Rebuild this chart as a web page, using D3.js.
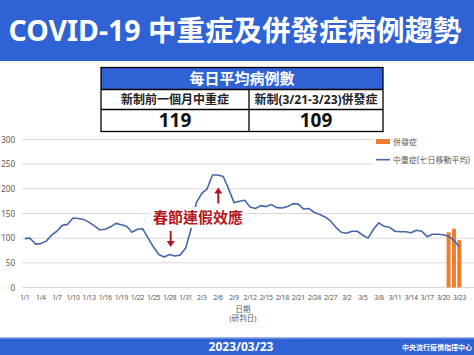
<!doctype html>
<html>
<head>
<meta charset="utf-8">
<script src="https://cdnjs.cloudflare.com/ajax/libs/d3/7.8.5/d3.min.js"></script>
<style>
  body{margin:0;background:#fff;}
  svg{display:block;font-family:"Noto Sans","Noto Sans CJK TC",sans-serif;}
</style>
</head>
<body>
<svg id="chart" width="474" height="355"></svg>
<script>
// daily values, 1/1 .. 3/23
var severe = [99,100,88,89,94,106,114,126,128,141,140,138,132,125,117,118,123,130,127,124,
  112,118,119,100,82,67,62,67,64,66,80,118,172,191,200,228,228,225,200,172,
  175,177,163,160,166,164,168,162,161,164,170,169,159,160,152,148,143,135,122,112,
  110,114,114,106,100,118,131,124,122,114,113,113,111,116,114,103,108,108,107,104,
  95,83];
var compDates = ["3/21","3/22","3/23"];
var complication = [112,119,96];
var yTicks = [0,50,100,150,200,250,300];
var tickLabels = ["1/1","1/4","1/7","1/10","1/13","1/16","1/19","1/22","1/25","1/28","1/31",
  "2/3","2/6","2/9","2/12","2/15","2/18","2/21","2/24","2/27","3/2","3/5","3/8","3/11",
  "3/14","3/17","3/20","3/23"];
var tableHead = "每日平均病例數";
var tableCols = ["新制前一個月中重症","新制(3/21-3/23)併發症"];
var tableVals = ["119","109"];

var dates = d3.timeDay.range(new Date(2023,0,1), new Date(2023,2,24))
  .map(function(d){ return (d.getMonth()+1) + "/" + d.getDate(); });

var blue = "#2f62d4", red = "#b0171f", lineBlue = "#4566ad";
var svg = d3.select("#chart");

// header band
svg.append("rect").attr("x",0).attr("y",0).attr("width",474).attr("height",61).attr("fill",blue);
svg.append("text").attr("x",235).attr("y",41).attr("text-anchor","middle")
  .attr("fill","#fff").attr("font-size",28.5).attr("font-weight","bold")
  .text("COVID-19 中重症及併發症病例趨勢");

// scales
var x = d3.scalePoint().domain(dates).range([24.7,459.3]);
var y = d3.scaleLinear().domain([0,300]).range([287.5,139.5]);

// grid
svg.append("g").selectAll("line").data(yTicks).enter().append("line")
  .attr("x1",22).attr("x2",474).attr("y1",d=>y(d)).attr("y2",d=>y(d))
  .attr("stroke","#d9d9d9").attr("stroke-width",1);
svg.append("g").selectAll("text").data(yTicks).enter().append("text")
  .attr("x",15).attr("y",d=>y(d)+3).attr("text-anchor","end")
  .attr("font-size",8).attr("fill","#595959").text(d=>d);

// x labels
svg.append("g").selectAll("text").data(tickLabels).enter().append("text")
  .attr("x",d=>x(d)).attr("y",300).attr("text-anchor","middle")
  .attr("font-size",7).attr("letter-spacing",-0.4).attr("fill","#595959").text(d=>d);
svg.append("text").attr("x",243).attr("y",311.5).attr("text-anchor","middle")
  .attr("font-size",7.5).attr("fill","#595959").text("日期");
svg.append("text").attr("x",243).attr("y",321).attr("text-anchor","middle")
  .attr("font-size",7.5).attr("fill","#595959").text("(研判日)");

// bars
svg.append("g").selectAll("rect").data(complication).enter().append("rect")
  .attr("x",(d,i)=>x(compDates[i])-2).attr("width",4)
  .attr("y",d=>y(d)).attr("height",d=>y(0)-y(d)).attr("fill","#ed7d31");

// line
var line = d3.line().x((d,i)=>x(dates[i])).y(d=>y(d));
svg.append("path").datum(severe).attr("d",line).attr("fill","none")
  .attr("stroke",lineBlue).attr("stroke-width",1.6).attr("stroke-linejoin","round");

// annotation
svg.append("rect").attr("x",150).attr("y",207).attr("width",96).attr("height",21).attr("fill","#fff");
svg.append("text").attr("x",198).attr("y",223).attr("text-anchor","middle")
  .attr("font-size",15).attr("font-weight","bold").attr("fill",red).text("春節連假效應");
function arrow(cx, y1, y2){
  var dir = y2 > y1 ? 1 : -1;
  svg.append("line").attr("x1",cx).attr("x2",cx).attr("y1",y1).attr("y2",y2-dir*5)
    .attr("stroke",red).attr("stroke-width",2);
  svg.append("path").attr("fill",red)
    .attr("d","M"+(cx-4)+","+(y2-dir*6)+"L"+(cx+4)+","+(y2-dir*6)+"L"+cx+","+y2+"Z");
}
arrow(170.7,231,247);
arrow(218.3,203.5,187.5);

// legend
svg.append("rect").attr("x",373).attr("y",131).attr("width",101).attr("height",38).attr("fill","#fff");
svg.append("rect").attr("x",376).attr("y",139).attr("width",14).attr("height",5).attr("fill","#ed7d31");
svg.append("text").attr("x",393).attr("y",144.5).attr("font-size",8).attr("fill","#595959").text("併發症");
svg.append("line").attr("x1",376).attr("x2",390).attr("y1",159.7).attr("y2",159.7)
  .attr("stroke",lineBlue).attr("stroke-width",1.6);
svg.append("text").attr("x",393).attr("y",162.5).attr("font-size",8).attr("fill","#595959").text("中重症(七日移動平均)");

// table
var tx0 = 101, tx1 = 383, tmid = 249;
svg.append("rect").attr("x",tx0).attr("y",67.5).attr("width",tx1-tx0).attr("height",22).attr("fill",blue);
svg.append("rect").attr("x",tx0).attr("y",67.5).attr("width",tx1-tx0).attr("height",64)
  .attr("fill","none").attr("stroke","#000").attr("stroke-width",1.3);
svg.append("line").attr("x1",tx0).attr("x2",tx1).attr("y1",89.5).attr("y2",89.5).attr("stroke","#000").attr("stroke-width",1.3);
svg.append("line").attr("x1",tx0).attr("x2",tx1).attr("y1",109.5).attr("y2",109.5).attr("stroke","#000").attr("stroke-width",1.3);
svg.append("line").attr("x1",tmid).attr("x2",tmid).attr("y1",89.5).attr("y2",131.5).attr("stroke","#000").attr("stroke-width",1.3);
svg.append("text").attr("x",(tx0+tx1)/2).attr("y",84).attr("text-anchor","middle")
  .attr("font-size",15).attr("font-weight","bold").attr("fill","#fff").text(tableHead);
var cx = [(tx0+tmid)/2, (tmid+tx1)/2];
tableCols.forEach(function(t,i){
  svg.append("text").attr("x",cx[i]).attr("y",103.5).attr("text-anchor","middle")
    .attr("font-size",12).attr("font-weight","bold").attr("fill","#222").text(t);
  svg.append("text").attr("x",cx[i]).attr("y",127).attr("text-anchor","middle")
    .attr("font-size",19).attr("font-weight","bold").attr("fill","#111").text(tableVals[i]);
});

// footer
svg.append("rect").attr("x",0).attr("y",338).attr("width",474).attr("height",17).attr("fill",blue);
svg.append("rect").attr("x",0).attr("y",337).attr("width",474).attr("height",1.5).attr("fill","#9db4ea");
svg.append("text").attr("x",241).attr("y",351).attr("text-anchor","middle")
  .attr("font-size",12).attr("font-weight","bold").attr("fill","#fff").text("2023/03/23");
svg.append("text").attr("x",402).attr("y",350).attr("font-size",7).attr("font-weight","bold")
  .attr("fill","#fff").text("中央流行疫情指揮中心");
</script>
</body>
</html>
